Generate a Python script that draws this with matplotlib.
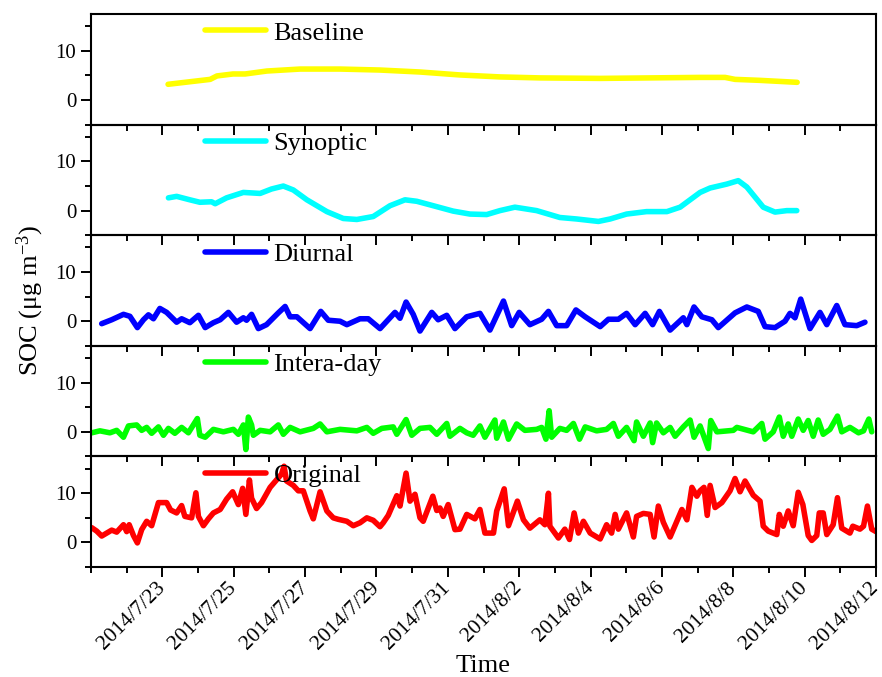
import matplotlib
matplotlib.use("Agg")
import matplotlib.pyplot as plt
from matplotlib.ticker import MultipleLocator, FixedLocator

plt.rcParams['font.family'] = ['Liberation Serif', 'DejaVu Serif']
plt.rcParams['mathtext.default'] = 'regular'

# ---- data (days since 2014-07-21 00:00, SOC in ug m-3) ----
base_day = [2.16, 3.34, 3.53, 3.98, 4.32, 4.93, 5.86, 6.98, 8.10, 9.22, 10.34,
            11.46, 12.58, 14.27, 15.67, 17.07, 17.77, 18.05, 18.75, 19.79]
base_val = [3.2, 4.2, 4.9, 5.3, 5.3, 5.9, 6.3, 6.3, 6.1, 5.7, 5.1,
            4.7, 4.5, 4.4, 4.5, 4.6, 4.6, 4.2, 4.0, 3.6]

syn_day = [2.17, 2.40, 2.77, 3.05, 3.38, 3.48, 3.80, 4.27, 4.74, 5.06, 5.39, 5.67,
           6.05, 6.61, 7.07, 7.45, 7.91, 8.38, 8.80, 9.13, 9.59, 10.15, 10.62,
           11.09, 11.46, 11.88, 12.49, 13.14, 13.61, 14.22, 14.55, 15.01, 15.57,
           16.14, 16.51, 17.07, 17.35, 17.82, 18.14, 18.38, 18.84, 19.17, 19.50, 19.78]
syn_val = [2.6, 2.9, 2.2, 1.7, 1.8, 1.4, 2.6, 3.7, 3.5, 4.4, 5.0, 4.2,
           2.2, -0.2, -1.6, -1.8, -1.2, 1.0, 2.2, 1.9, 1.0, -0.1, -0.7,
           -0.8, 0.0, 0.7, 0.0, -1.4, -1.7, -2.2, -1.7, -0.7, -0.2,
           -0.2, 0.7, 3.7, 4.6, 5.4, 6.1, 4.8, 0.7, -0.3, 0.0, 0.0]

diu_day = [0.30, 0.58, 0.91, 1.09, 1.30, 1.47, 1.61, 1.75, 1.93, 2.12, 2.40, 2.54,
           2.77, 3.01, 3.20, 3.43, 3.62, 3.85, 4.08, 4.27, 4.36, 4.50, 4.69, 4.92,
           5.25, 5.44, 5.58, 5.77, 6.14, 6.44, 6.65, 6.98, 7.17, 7.54, 7.77, 8.10,
           8.52, 8.66, 8.83, 9.03, 9.22, 9.55, 9.73, 9.97, 10.20, 10.53, 10.90,
           11.18, 11.56, 11.79, 12.00, 12.30, 12.63, 12.82, 13.05, 13.33, 13.59,
           13.85, 14.27, 14.50, 14.78, 15.01, 15.25, 15.53, 15.74, 15.93, 16.23,
           16.60, 16.70, 16.90, 17.12, 17.40, 17.58, 18.05, 18.38, 18.70, 18.89,
           19.17, 19.45, 19.59, 19.73, 19.89, 20.15, 20.43, 20.62, 20.90, 21.13,
           21.46, 21.69]
diu_val = [-0.5, 0.3, 1.4, 1.0, -1.3, 0.3, 1.3, 0.5, 2.6, 1.8, -0.2, 0.5,
           -0.3, 1.2, -1.3, -0.3, 0.3, 1.8, -0.2, 0.7, 0.2, 1.4, -1.5, -0.7,
           1.7, 3.0, 0.9, 0.9, -1.5, 2.0, 0.2, 0.0, -0.7, 0.5, 0.5, -1.5,
           1.8, 0.6, 3.9, 1.4, -2.0, 1.8, 0.3, 1.2, -1.5, 0.9, 1.6,
           -1.8, 4.1, -0.9, 1.8, -0.7, 0.4, 2.0, -0.9, -0.9, 2.3,
           0.9, -1.1, 0.4, 0.4, 1.6, -0.7, 1.6, -0.7, 2.0, -1.8,
           0.7, -0.7, 2.9, 0.9, 0.3, -1.3, 1.7, 2.9, 2.0, -1.1,
           -1.3, 0.0, 1.6, 0.7, 4.5, -1.5, 1.8, -0.7, 3.2, -0.7,
           -0.9, -0.2]

intra_day = [0.02, 0.25, 0.53, 0.72, 0.91, 1.05, 1.28, 1.42, 1.56, 1.70, 1.89, 2.03,
             2.17, 2.35, 2.54, 2.73, 2.98, 3.05, 3.20, 3.43, 3.71, 3.99, 4.13, 4.27,
             4.34, 4.41, 4.50, 4.55, 4.74, 5.02, 5.25, 5.39, 5.58, 5.86, 6.23, 6.42,
             6.61, 6.98, 7.45, 7.73, 7.91, 8.15, 8.47, 8.57, 8.83, 8.99, 9.22, 9.50,
             9.69, 9.97, 10.06, 10.34, 10.53, 10.71, 10.90, 11.04, 11.32, 11.37,
             11.56, 11.70, 11.93, 12.16, 12.49, 12.63, 12.75, 12.84, 12.91, 13.14,
             13.33, 13.52, 13.69, 13.85, 14.17, 14.45, 14.64, 14.78, 15.01, 15.22,
             15.29, 15.48, 15.67, 15.74, 15.85, 16.04, 16.23, 16.37, 16.60, 16.79,
             16.90, 17.07, 17.30, 17.37, 17.54, 18.00, 18.10, 18.56, 18.80, 18.89,
             19.12, 19.29, 19.40, 19.54, 19.64, 19.82, 19.96, 20.10, 20.24, 20.38,
             20.52, 20.71, 20.92, 21.04, 21.27, 21.51, 21.65, 21.80, 21.88]
intra_val = [-0.2, 0.2, -0.2, 0.3, -1.1, 1.2, 1.4, 0.3, 0.9, -0.3, 1.0, -0.7,
             0.7, -0.3, 0.9, -0.2, 2.7, -0.7, -1.1, 0.5, 0.0, 0.5, -0.5, 1.4,
             -3.6, 3.0, 1.4, -0.7, 0.3, 0.0, 1.4, -0.5, 0.9, 0.0, 0.7, 1.6,
             0.0, 0.5, 0.2, 0.9, -0.3, 0.7, 1.0, -0.5, 2.5, -0.7, 0.7, 0.9,
             -0.5, 1.7, -0.9, 0.7, -0.2, -0.7, 1.2, -1.1, 2.4, -1.3,
             2.0, -1.5, 1.6, 0.3, 0.5, 0.9, -1.5, 4.3, -1.1, 0.7,
             0.3, 1.7, -1.5, 1.0, 0.2, 0.5, 1.7, -0.9, 0.9, -1.8,
             2.0, -0.9, 1.8, -2.2, 1.8, -0.2, 0.9, -0.9, 1.0, 2.4,
             -1.1, 1.2, -3.4, 2.3, 0.0, 0.3, 0.9, 0.0, 1.7, -1.5,
             0.0, 3.0, -0.9, 1.6, -0.9, 2.6, 0.3, 2.3, -0.9, 2.4,
             -0.5, 0.5, 3.2, 0.0, 0.9, -0.2, 0.2, 2.6, 0.0]

orig_day = [0.02, 0.16, 0.30, 0.58, 0.72, 0.91, 1.00, 1.07, 1.19, 1.30, 1.42, 1.56,
            1.70, 1.89, 2.12, 2.23, 2.40, 2.54, 2.63, 2.82, 2.94, 3.01, 3.15, 3.29,
            3.43, 3.62, 3.80, 3.97, 4.13, 4.25, 4.34, 4.44, 4.50, 4.64, 4.78, 5.02,
            5.20, 5.34, 5.41, 5.48, 5.67, 5.81, 5.95, 6.14, 6.23, 6.42, 6.61, 6.79,
            6.93, 7.17, 7.35, 7.54, 7.73, 7.91, 8.10, 8.19, 8.33, 8.57, 8.66, 8.83,
            8.94, 9.08, 9.22, 9.31, 9.58, 9.69, 9.78, 9.87, 10.01, 10.20, 10.34,
            10.53, 10.76, 10.90, 11.04, 11.28, 11.37, 11.58, 11.70, 11.95, 12.12,
            12.30, 12.58, 12.72, 12.82, 12.86, 13.10, 13.28, 13.41, 13.54, 13.66,
            13.80, 13.99, 14.27, 14.45, 14.59, 14.69, 14.78, 15.01, 15.20, 15.29,
            15.48, 15.67, 15.78, 15.90, 16.04, 16.23, 16.42, 16.56, 16.70, 16.84,
            16.98, 17.07, 17.18, 17.27, 17.35, 17.49, 17.68, 17.91, 18.05, 18.19,
            18.33, 18.56, 18.75, 18.84, 18.98, 19.22, 19.29, 19.40, 19.54, 19.68,
            19.82, 19.95, 20.10, 20.20, 20.34, 20.41, 20.52, 20.62, 20.80, 20.92,
            21.04, 21.27, 21.35, 21.55, 21.65, 21.76, 21.88, 22.0]
orig_val = [3.0, 2.3, 1.3, 2.5, 2.1, 3.6, 2.2, 3.6, 1.4, -0.1, 2.6, 4.3,
            3.4, 8.1, 8.1, 6.6, 6.0, 7.5, 5.3, 5.0, 10.1, 5.3, 3.4, 4.8,
            6.0, 6.7, 8.8, 10.3, 7.7, 11.0, 5.7, 12.7, 9.0, 6.9, 8.1, 11.2,
            12.7, 13.9, 15.5, 12.5, 11.6, 10.5, 10.5, 6.4, 4.8, 10.3, 6.4, 5.0,
            4.7, 4.3, 3.4, 4.0, 5.0, 4.5, 3.2, 4.0, 5.5, 9.5, 7.4, 14.1,
            8.4, 9.8, 5.0, 4.3, 9.4, 6.5, 7.0, 5.3, 7.7, 2.6, 2.7,
            5.7, 4.8, 6.7, 1.9, 1.9, 6.4, 10.9, 3.4, 8.4, 4.6,
            2.9, 4.6, 3.6, 10.0, 3.3, 0.9, 2.7, 0.6, 6.0, 1.9,
            4.3, 1.9, 0.7, 3.6, 1.9, 5.7, 2.7, 6.0, 1.1, 5.3,
            5.9, 5.7, 1.1, 7.4, 4.1, 1.1, 4.3, 6.7, 4.6, 11.2,
            9.4, 10.5, 11.2, 5.5, 11.6, 7.1, 8.1, 10.5, 13.0, 10.3,
            12.5, 9.6, 8.4, 3.3, 2.3, 1.6, 5.7, 3.3, 6.4, 3.4,
            10.2, 7.7, 1.4, 0.4, 1.4, 6.0, 6.0, 1.6, 3.6, 9.1,
            2.9, 1.9, 3.3, 2.7, 3.3, 7.4, 2.7, 2.2]

series = [
    ("Baseline", base_day, base_val, "#FFFF00"),
    ("Synoptic", syn_day, syn_val, "#00FFFF"),
    ("Diurnal", diu_day, diu_val, "#0000FF"),
    ("Intera-day", intra_day, intra_val, "#00FF00"),
    ("Original", orig_day, orig_val, "#FF0000"),
]

tick_days = [2, 4, 6, 8, 10, 12, 14, 16, 18, 20, 22]
tick_labels = ["2014/7/23", "2014/7/25", "2014/7/27", "2014/7/29", "2014/7/31",
               "2014/8/2", "2014/8/4", "2014/8/6", "2014/8/8", "2014/8/10", "2014/8/12"]

fig = plt.figure(figsize=(8.82, 6.77), dpi=100)
fig.patch.set_facecolor("white")
gs = fig.add_gridspec(5, 1, left=91/882, right=876/882, top=1-14/677,
                      bottom=1-567/677, hspace=0)
axes = []
for i, (name, d, v, c) in enumerate(series):
    ax = fig.add_subplot(gs[i, 0])
    ax.set_facecolor("none")
    ax.set_zorder(10 - i)
    ax.plot(d, v, color=c, lw=4.0, solid_joinstyle="round",
            solid_capstyle="round", label=name)
    ax.set_xlim(0, 22)
    ax.set_ylim(-5, 17.5)
    ax.yaxis.set_major_locator(FixedLocator([0, 10]))
    ax.yaxis.set_minor_locator(FixedLocator([-5, 5, 15]))
    ax.xaxis.set_major_locator(FixedLocator(tick_days))
    ax.xaxis.set_minor_locator(MultipleLocator(1))
    ax.tick_params(which="major", direction="out", length=7, width=1.4,
                   labelsize=15, top=False, right=False)
    ax.tick_params(which="minor", direction="out", length=4.5, width=1.4,
                   top=False, right=False)
    for s in ax.spines.values():
        s.set_linewidth(1.5)
    if i < 4:
        ax.set_xticklabels([])
    else:
        ax.set_xticklabels(tick_labels, rotation=45, ha="right", va="center",
                           rotation_mode="anchor")
        ax.tick_params(axis="x", which="major", pad=6, labelsize=15.5)
    leg = ax.legend(loc="center left", bbox_to_anchor=(0.145, 0.829),
                    frameon=False, borderpad=0, borderaxespad=0,
                    handlelength=2.3, handletextpad=0.3, fontsize=19)
    leg.set_zorder(20)
    axes.append(ax)

axes[-1].set_xlabel("Time", fontsize=19, labelpad=1)
fig.text(30/882, 1-300/677, "SOC (μg m$^{-3}$)", rotation=90, fontsize=19,
         ha="center", va="center")

fig.savefig("out.png", dpi=100)
